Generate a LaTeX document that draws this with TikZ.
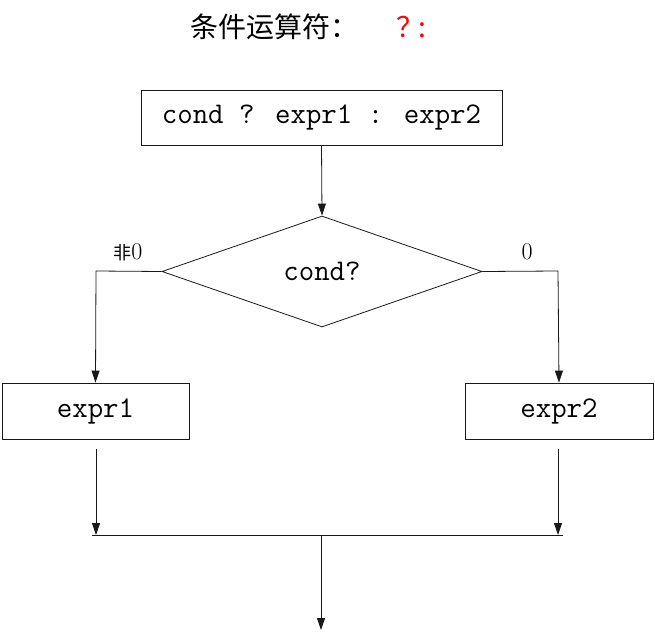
\documentclass[tikz,border=0pt]{standalone}
\usepackage{fontspec}
\newfontfamily\cjk{Noto Sans CJK SC}
\usetikzlibrary{arrows.meta,shapes.geometric}
\tikzset{
  box/.style={draw=black!90, line width=0.8pt, inner sep=0pt, font=\fontsize{30}{36}\selectfont\ttfamily},
  link/.style={draw=black!90, line width=0.8pt},
  arr/.style={link, -{Triangle[width=8pt,length=12pt]}},
  lbl/.style={font=\fontsize{24}{28}\selectfont, inner sep=0pt},
}
\begin{document}
\begin{tikzpicture}[x=1pt,y=-1pt]
\useasboundingbox (0,0) rectangle (655,631);
% title
\node[anchor=west, inner sep=0pt, font=\cjk\fontsize{28}{32}\selectfont] (title) at (190,27) {条件运算符：};
\node[anchor=west, inner sep=0pt, font=\cjk\fontsize{28}{32}\selectfont, text=red] (op) at (396,27) {？\hspace{-6pt}:};
% nodes
\node[box, minimum width=361pt, minimum height=55pt] (top) at (321.5,117.5) {cond ? expr1 : expr2};
\node[box, shape=diamond, minimum width=320pt, minimum height=111pt, aspect=2.88] (cond) at (322,271.5) {cond?};
\node[box, minimum width=187pt, minimum height=56pt] (e1) at (95.5,411) {expr1};
\node[box, minimum width=188pt, minimum height=56pt] (e2) at (559,411) {expr2};
% coordinates
\coordinate (lt) at (96,271);
\coordinate (rt) at (558,271);
\coordinate (e1o) at (96,449);
\coordinate (e2o) at (558,449);
\coordinate (j1) at (96,535);
\coordinate (j2) at (558,535);
\coordinate (jl) at (92,535);
\coordinate (jr) at (563,535);
\coordinate (jm) at (321,535);
\coordinate (fin) at (321,630);
% connectors
\draw[arr] (top.south) -- (cond.north);
\draw[arr] (cond.west) -- (lt) -- (e1.north);
\draw[arr] (cond.east) -- (rt) -- (e2.north);
\draw[arr] (e1o) -- (j1);
\draw[arr] (e2o) -- (j2);
\draw[link] (jl) -- (jr);
\draw[arr] (jm) -- (fin);
% labels
\node[lbl] (l1) at (128,252) {{\cjk\fontsize{18}{22}\selectfont 非}0};
\node[lbl] (l0) at (527,252) {0};
\end{tikzpicture}
\end{document}
